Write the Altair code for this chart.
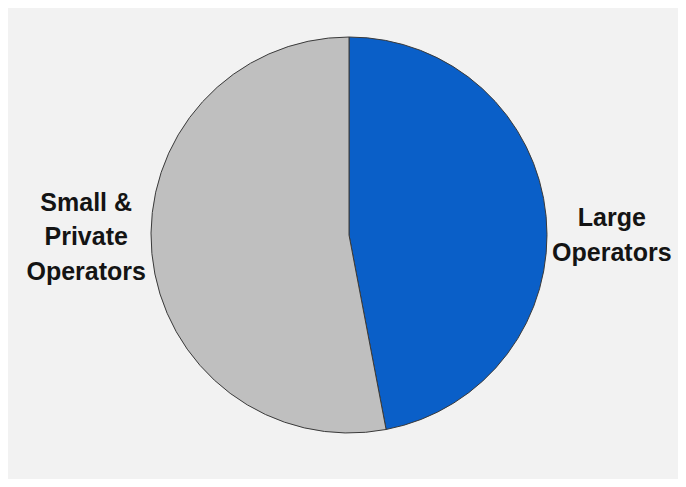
import altair as alt
import pandas as pd

categories = ["Large Operators", "Small & Private Operators"]
labels = [["Large", "Operators"], ["Small &", "Private", "Operators"]]
shares = [47, 53]
colors = ["#0a5fc8", "#bfbfbf"]
order = [0, 1]

df = pd.DataFrame({"category": categories, "share": shares, "order": order,
                   "label": labels})

cx, cy = 341, 227

base = alt.Chart(df).transform_window(
    cum="sum(share)", sort=[alt.SortField("order")]
).transform_joinaggregate(
    total="sum(share)"
).transform_calculate(
    start="(datum.cum - datum.share) / datum.total * 2 * PI",
    end="datum.cum / datum.total * 2 * PI",
    mid="(datum.cum - datum.share / 2) / datum.total * 2 * PI",
)

pie = base.mark_arc(radius=198, stroke="#3a3a3a", strokeWidth=1).encode(
    theta=alt.Theta("start:Q", scale=None),
    theta2="end:Q",
    color=alt.Color("category:N", scale=alt.Scale(domain=categories, range=colors), legend=None),
    x=alt.value(cx), y=alt.value(cy),
)

txt_style = dict(radius=264, font="Liberation Sans", fontSize=25, fontWeight="bold",
                 color="#141414", lineHeight=34.5, align="center", baseline="middle")

right = base.transform_filter(alt.datum.category == "Large Operators").mark_text(
    dy=8, **txt_style
).encode(
    theta=alt.Theta("mid:Q", scale=None),
    text="label", x=alt.value(cx), y=alt.value(cy)
)

left = base.transform_filter(alt.datum.category == "Small & Private Operators").mark_text(
    dy=-57, **txt_style
).encode(
    theta=alt.Theta("mid:Q", scale=None),
    text="label", x=alt.value(cx), y=alt.value(cy)
)

chart = alt.layer(pie, right, left).properties(
    width=670, height=471, padding=0, autosize="none", background="#f2f2f2"
).configure_view(stroke=None)

chart.save("out.html", embed_options={"renderer": "svg", "actions": False})
